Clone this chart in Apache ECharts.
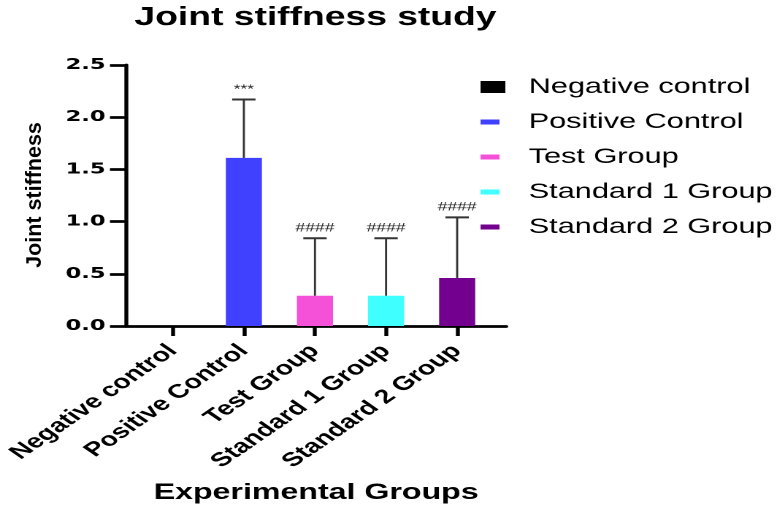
<!DOCTYPE html>
<html><head><meta charset="utf-8">
<script src="https://cdn.jsdelivr.net/npm/echarts@6/dist/echarts.min.js"></script>
<style>
html,body{margin:0;padding:0;background:#fff;overflow:hidden;width:777px;height:506px;}
#chart{width:532px;height:506px;transform:scaleX(1.4605);transform-origin:0 0;}
</style></head><body><div id="chart"></div>
<script>
const categories = ['Negative control', 'Positive Control', 'Test Group', 'Standard 1 Group', 'Standard 2 Group'];
const means = [0, 1.61, 0.29, 0.29, 0.46];
const errorsUp = [0, 0.56, 0.55, 0.55, 0.58];
const marks = ['', '***', '####', '####', '####'];
const colors = ['#000000', '#4040ff', '#f550d8', '#40ffff', '#740090'];
const yMin = 0, yMax = 2.5, yStep = 0.5;

const SX = 1.4605;
const FONT = "'Liberation Sans', Arial, sans-serif";
const iconBlack = 'path://M28,12M0,0H17V12H0Z';
const iconThin = 'path://M28,12M0,0M0,3.5H13V8.5H0Z';

const chart = echarts.init(document.getElementById('chart'), null, {renderer: 'canvas', devicePixelRatio: 2});

const barSeries = categories.map((c, i) => ({
  type: 'bar',
  name: c,
  data: [[i, means[i]]],
  barWidth: 24.7,
  barGap: '-100%',
  itemStyle: {color: colors[i]},
  z: 2
}));

const errSeries = {
  type: 'custom',
  name: 'error',
  silent: true,
  z: 5,
  data: categories.map((c, i) => [i, means[i], errorsUp[i]]),
  encode: {x: 0, y: 1},
  renderItem: function (params, api) {
    const i = api.value(0), m = api.value(1), e = api.value(2);
    if (!(e > 0)) return null;
    const p0 = api.coord([i, m]);
    const p1 = api.coord([i, m + e]);
    const half = 8;
    return {
      type: 'group',
      children: [
        {type: 'line', shape: {x1: p0[0], y1: p0[1], x2: p1[0], y2: p1[1]}, style: {stroke: '#333', lineWidth: 1.4}},
        {type: 'line', shape: {x1: p1[0] - half, y1: p1[1], x2: p1[0] + half, y2: p1[1]}, style: {stroke: '#333', lineWidth: 2}},
        {type: 'text', x: p1[0], y: p1[1] - 4, style: {text: marks[params.dataIndex], align: 'center', verticalAlign: 'bottom', font: '12px ' + FONT, fill: '#222'}}
      ]
    };
  }
};

chart.setOption({
  animation: false,
  backgroundColor: '#fff',
  title: {
    text: 'Joint stiffness study',
    left: 211, top: 0, textAlign: 'center',
    textStyle: {fontFamily: FONT, fontWeight: 'bold', fontSize: 25.5, color: '#000'}
  },
  legend: {
    orient: 'vertical',
    left: 324, top: 71,
    itemWidth: 28, itemHeight: 12, itemGap: 13,
    symbolKeepAspect: false,
    itemStyle: {borderWidth: 0},
    textStyle: {fontFamily: FONT, fontSize: 21, color: '#000', lineHeight: 22},
    data: categories.map((c, i) => ({name: c, icon: i === 0 ? iconBlack : iconThin}))
  },
  grid: {left: 86.3, right: 185.4, top: 65, bottom: 180, containLabel: false, outerBoundsMode: 'none'},
  xAxis: {
    type: 'value',
    min: -0.657, max: 4.69,
    splitLine: {show: false},
    axisLine: {show: true, onZero: false, lineStyle: {color: '#000', width: 2.7}},
    axisTick: {show: true, customValues: [0, 1, 2, 3, 4], length: 10, lineStyle: {color: '#000', width: 2.7}},
    axisLabel: {
      customValues: [0, 1, 2, 3, 4],
      formatter: v => categories[Math.round(v)] || '',
      rotate: 45, margin: 22,
      fontFamily: FONT, fontWeight: 'bold', fontSize: 19.5, color: '#000'
    },
    name: 'Experimental Groups',
    nameLocation: 'middle',
    nameGap: 156,
    nameTextStyle: {fontFamily: FONT, fontWeight: 'bold', fontSize: 22, color: '#000', verticalAlign: 'top'}
  },
  yAxis: {
    type: 'value',
    min: yMin, max: yMax, interval: yStep,
    splitLine: {show: false},
    axisLine: {show: true, onZero: false, lineStyle: {color: '#000', width: 2.7}},
    axisTick: {show: true, length: 11, lineStyle: {color: '#000', width: 2.7}},
    axisLabel: {
      margin: 14,
      formatter: v => v.toFixed(1),
      fontFamily: "'DejaVu Sans', sans-serif", fontWeight: 'bold', fontSize: 15.5, color: '#000'
    }
  },
  graphic: [{
    type: 'text', x: 24, y: 195, rotation: Math.PI / 2, scaleY: 1 / SX,
    style: {text: 'Joint stiffness', font: 'bold 21.5px ' + FONT, fill: '#000', align: 'center', verticalAlign: 'middle'}
  }],
  series: barSeries.concat([errSeries])
});
</script></body></html>
